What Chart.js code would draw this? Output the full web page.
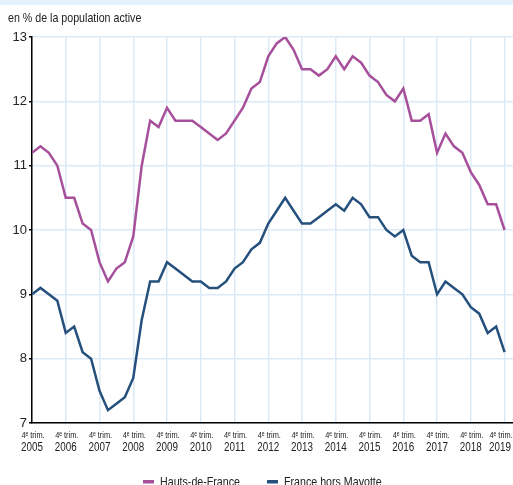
<!DOCTYPE html>
<html>
<head>
<meta charset="utf-8">
<script src="https://cdn.jsdelivr.net/npm/chart.js@4"></script>
<style>
    html, body { margin: 0; padding: 0; background: #fff; }
    #wrap { width: 513px; height: 485px; position: relative; }
</style>
</head>
<body>
<div id="wrap"><canvas id="chart" width="513" height="485"></canvas></div>
<script>
// Taux de chômage, 4e trim. 2005 - 4e trim. 2019 (trimestriel)
const years = ['2005', '2006', '2007', '2008', '2009', '2010', '2011', '2012',
               '2013', '2014', '2015', '2016', '2017', '2018', '2019'];
const quarterPrefix = '4\u1d49 trim.';
const yTicks = [7, 8, 9, 10, 11, 12, 13];

const hautsDeFrance = [
    11.2, 11.3, 11.2, 11.0, 10.5, 10.5, 10.1, 10.0,
    9.5, 9.2, 9.4, 9.5, 9.9, 11.0, 11.7, 11.6,
    11.9, 11.7, 11.7, 11.7, 11.6, 11.5, 11.4, 11.5,
    11.7, 11.9, 12.2, 12.3, 12.7, 12.9, 13.0, 12.8,
    12.5, 12.5, 12.4, 12.5, 12.7, 12.5, 12.7, 12.6,
    12.4, 12.3, 12.1, 12.0, 12.2, 11.7, 11.7, 11.8,
    11.2, 11.5, 11.3, 11.2, 10.9, 10.7, 10.4, 10.4,
    10.0
];
const franceHorsMayotte = [
    9.0, 9.1, 9.0, 8.9, 8.4, 8.5, 8.1, 8.0,
    7.5, 7.2, 7.3, 7.4, 7.7, 8.6, 9.2, 9.2,
    9.5, 9.4, 9.3, 9.2, 9.2, 9.1, 9.1, 9.2,
    9.4, 9.5, 9.7, 9.8, 10.1, 10.3, 10.5, 10.3,
    10.1, 10.1, 10.2, 10.3, 10.4, 10.3, 10.5, 10.4,
    10.2, 10.2, 10.0, 9.9, 10.0, 9.6, 9.5, 9.5,
    9.0, 9.2, 9.1, 9.0, 8.8, 8.7, 8.4, 8.5,
    8.1
];

const PINK = '#a64f9b';
const NAVY = '#25507c';
const GRID = '#dbeaf6';
const FONT = "'Liberation Sans', Arial, sans-serif";
const NARROW = 0.82; // squeeze text like a condensed face

const toPoints = arr => arr.map((v, i) => ({ x: i, y: v }));

// draw text squeezed horizontally, align: left | center | right
function narrowText(ctx, text, x, y, align) {
    const w = ctx.measureText(text).width * NARROW;
    let left = x;
    if (align === 'center') left = x - w / 2;
    if (align === 'right') left = x - w;
    ctx.save();
    ctx.textAlign = 'left';
    ctx.translate(left, y);
    ctx.scale(NARROW, 1);
    ctx.fillText(text, 0, 0);
    ctx.restore();
    return w;
}

// band, title, x labels and legend
const decorPlugin = {
    id: 'decor',
    beforeDraw(chart) {
        const ctx = chart.ctx;
        ctx.save();
        ctx.fillStyle = '#e2f1fa';
        ctx.fillRect(0, 0, chart.width, 5);
        ctx.restore();
    },
    afterDraw(chart) {
        const ctx = chart.ctx;
        const xs = chart.scales.x;
        ctx.save();
        ctx.fillStyle = '#222';
        ctx.textBaseline = 'middle';
        ctx.font = '13px ' + FONT;
        narrowText(ctx, 'en % de la population active', 8, 18, 'left');

        years.forEach((y, j) => {
            let px = xs.getPixelForValue(j * 4);
            ctx.font = '12px ' + FONT;
            const half = ctx.measureText(y).width * NARROW / 2;
            if (px + half > chart.width - 2) px = chart.width - 2 - half;
            narrowText(ctx, y, px, 448, 'center');
            ctx.font = '9px ' + FONT;
            narrowText(ctx, quarterPrefix, px + 1, 436, 'center');
        });

        // legend
        const items = [
            { ds: chart.data.datasets[0], x: 143 },
            { ds: chart.data.datasets[1], x: 267 }
        ];
        ctx.font = '13px ' + FONT;
        items.forEach(it => {
            ctx.fillStyle = it.ds.borderColor;
            ctx.fillRect(it.x, 480, 11, 3.5);
            ctx.fillStyle = '#222';
            narrowText(ctx, it.ds.label, it.x + 17, 482, 'left');
        });
        ctx.restore();
    }
};

new Chart(document.getElementById('chart'), {
    type: 'line',
    data: {
        datasets: [
            {
                label: 'Hauts-de-France',
                data: toPoints(hautsDeFrance),
                borderColor: PINK,
                borderWidth: 2.5,
                pointRadius: 0,
                tension: 0,
                fill: false
            },
            {
                label: 'France hors Mayotte',
                data: toPoints(franceHorsMayotte),
                borderColor: NAVY,
                borderWidth: 2.5,
                pointRadius: 0,
                tension: 0,
                fill: false
            }
        ]
    },
    options: {
        responsive: false,
        animation: false,
        layout: { padding: { top: 37, left: 0, right: 0, bottom: 0 } },
        plugins: {
            legend: { display: false },
            tooltip: { enabled: false }
        },
        scales: {
            x: {
                type: 'linear',
                min: 0,
                max: 57,
                ticks: { display: false, stepSize: 4, includeBounds: false },
                grid: { color: GRID, lineWidth: 1.5, tickLength: 0 },
                border: { color: '#000', width: 1.5 },
                afterFit(scale) { scale.height = 62; }
            },
            y: {
                min: 7,
                max: 13,
                afterBuildTicks(scale) { scale.ticks = yTicks.map(v => ({ value: v })); },
                ticks: {
                    color: '#222',
                    padding: 2,
                    font: { family: FONT, size: 13 }
                },
                grid: { color: GRID, lineWidth: 1.5, tickLength: 3, tickColor: '#000' },
                border: { color: '#000', width: 1.5 },
                afterFit(scale) { scale.width = 32; }
            }
        }
    },
    plugins: [decorPlugin]
});
</script>
</body>
</html>
